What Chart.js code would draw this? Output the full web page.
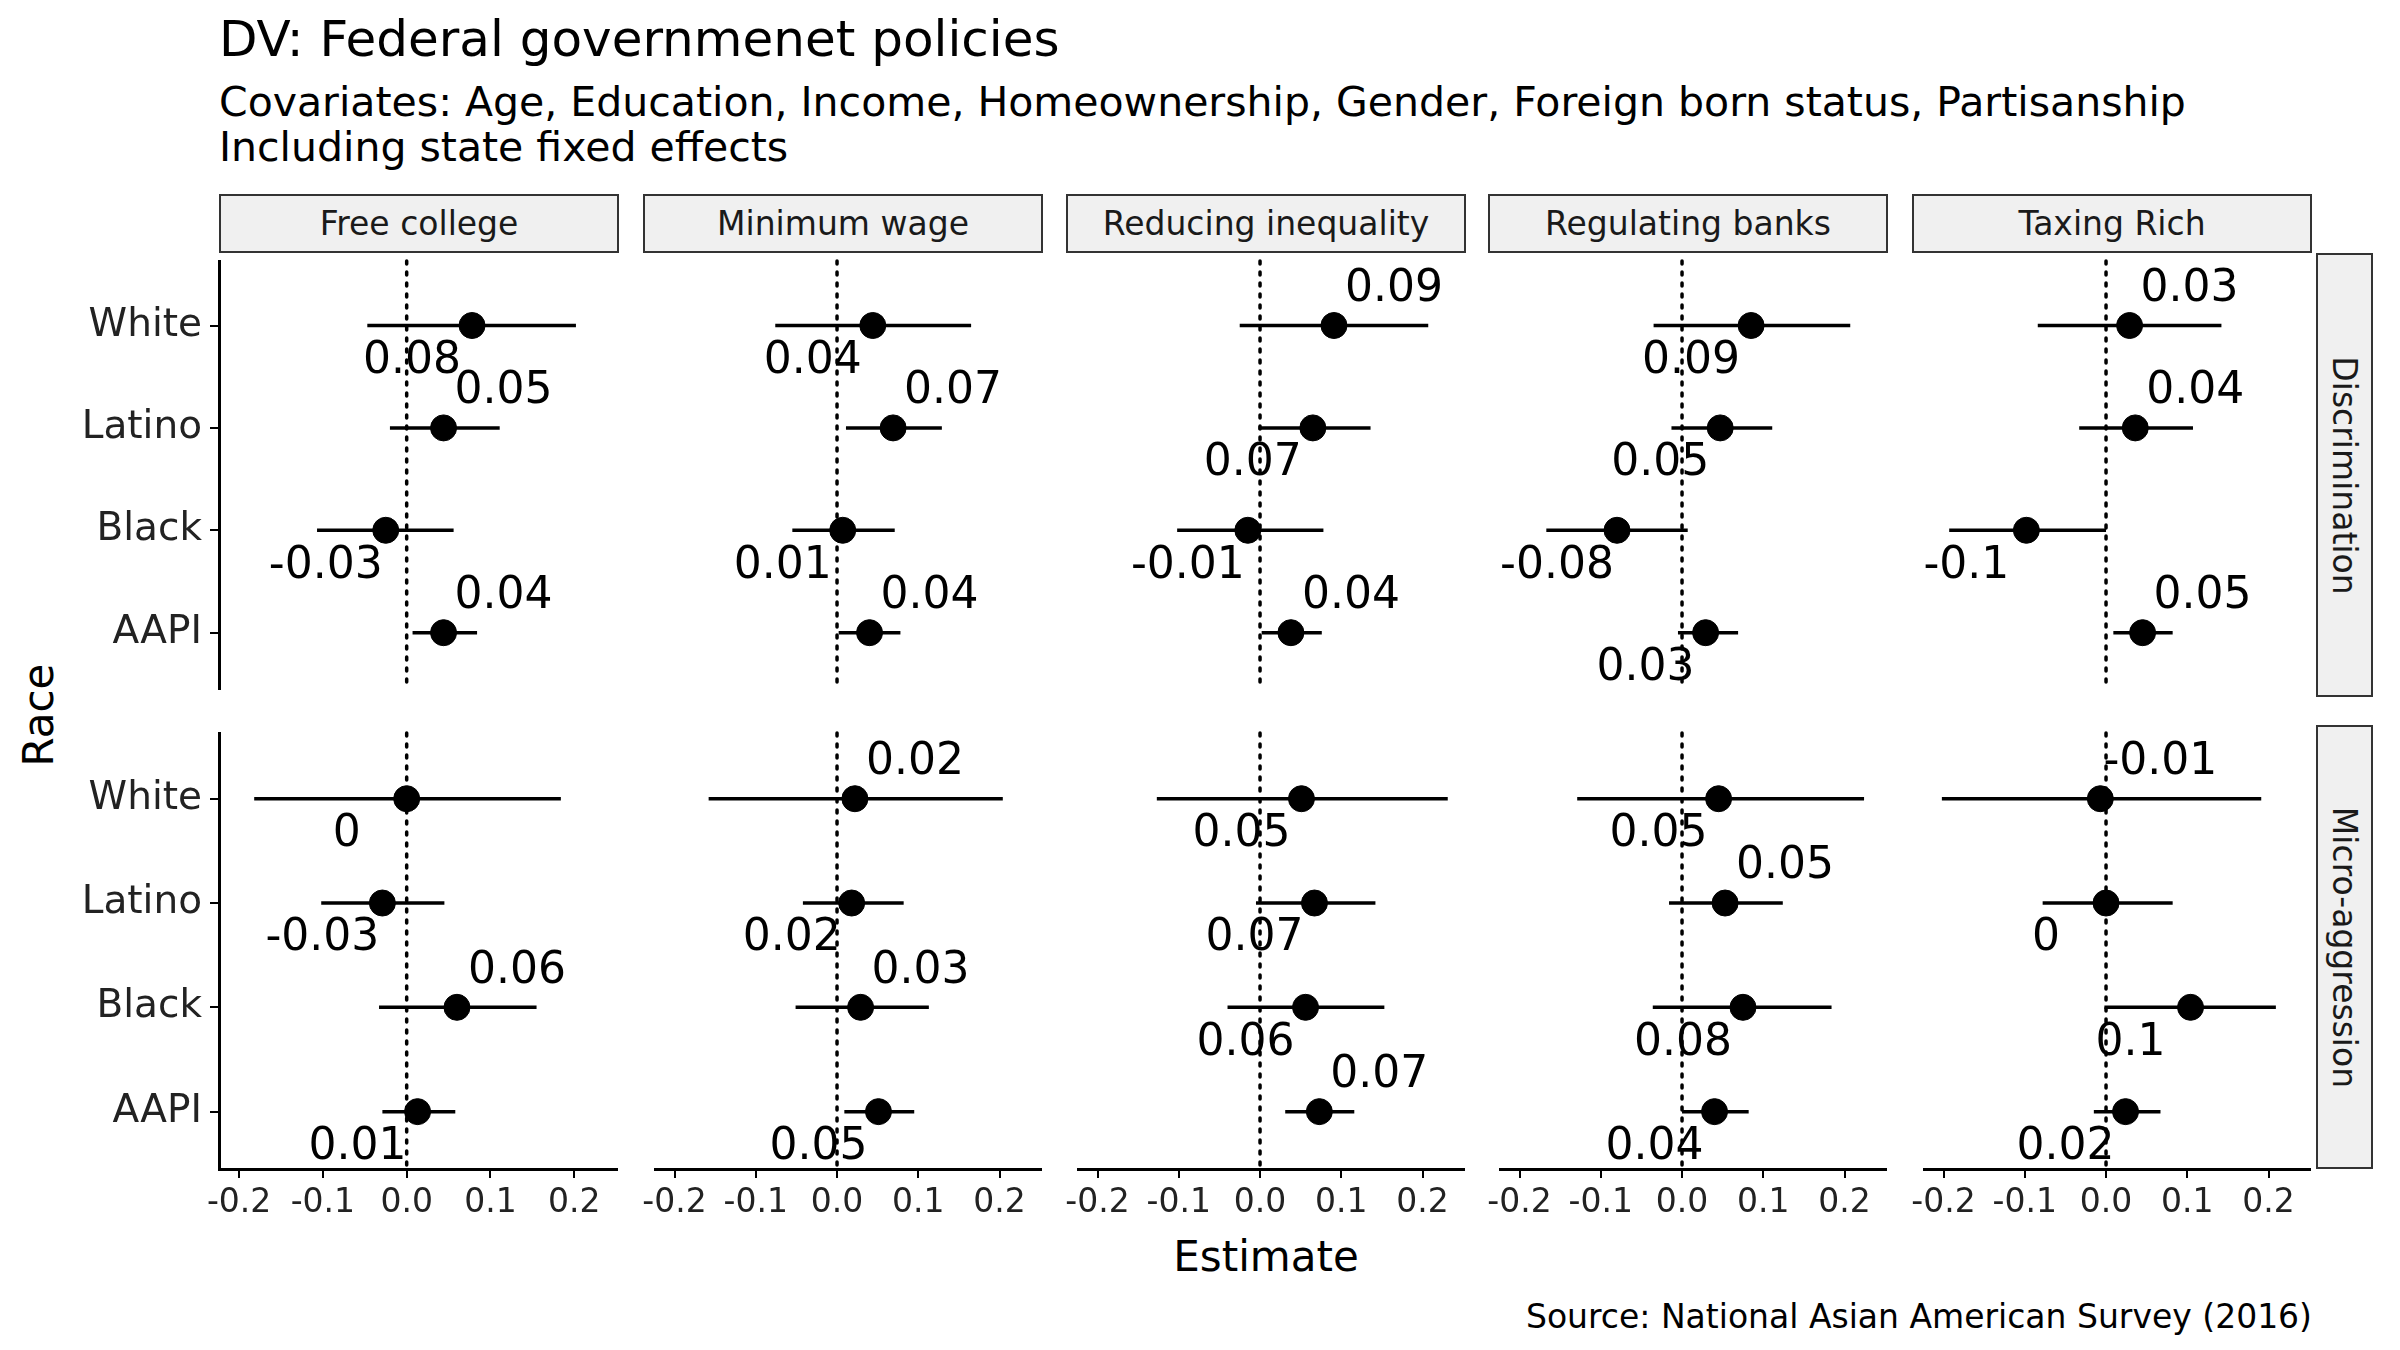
<!DOCTYPE html>
<html><head><meta charset="utf-8">
<script src="https://cdn.jsdelivr.net/npm/chart.js@4"></script>
<style>
body{margin:0;background:#fff;font-family:"DejaVu Sans",sans-serif;}
#wrap{position:relative;width:2400px;height:1350px;overflow:hidden;}
.t{position:absolute;white-space:nowrap;color:#000;}
.strip{position:absolute;background:#f0f0f0;border:2px solid #333;box-sizing:border-box;display:flex;align-items:center;justify-content:center;font-size:33px;color:#1a1a1a;}
canvas{position:absolute;}
</style></head>
<body><div id="wrap">
<div class="t" style="left:219px;top:10px;font-size:50px;">DV: Federal governmenet policies</div>
<div class="t" style="left:219px;top:80px;font-size:41px;line-height:45px;">Covariates: Age, Education, Income, Homeownership, Gender, Foreign born status, Partisanship<br>Including state fixed effects</div>
<div class="t" style="left:1266px;top:1232px;font-size:42px;transform:translateX(-50%);">Estimate</div>
<div class="t" style="left:2312px;top:1297px;font-size:33px;transform:translateX(-100%);">Source: National Asian American Survey (2016)</div>
<div class="t" style="left:38px;top:715px;font-size:42px;transform:translate(-50%,-50%) rotate(-90deg);">Race</div>
</div>
<script>
const policies = ['Free college', 'Minimum wage', 'Reducing inequality', 'Regulating banks', 'Taxing Rich'];
const outcomes = ['Discrimination', 'Micro-aggression'];
const races = ['White', 'Latino', 'Black', 'AAPI'];
const xTicks = [-0.2, -0.1, 0, 0.1, 0.2];

// [row][policy] -> per race
const estimates = [
  [[0.078, 0.044, -0.025, 0.044], [0.044, 0.069, 0.007, 0.040], [0.091, 0.065, -0.015, 0.038], [0.085, 0.047, -0.080, 0.029], [0.029, 0.036, -0.098, 0.045]],
  [[0.000, -0.029, 0.060, 0.013], [0.022, 0.018, 0.029, 0.051], [0.051, 0.067, 0.056, 0.073], [0.045, 0.053, 0.075, 0.040], [-0.007, 0.000, 0.104, 0.024]]
];
const lows = [
  [[-0.047, -0.020, -0.107, 0.007], [-0.076, 0.011, -0.055, 0.002], [-0.025, -0.002, -0.102, 0.002], [-0.035, -0.013, -0.167, -0.005], [-0.084, -0.033, -0.193, 0.009]],
  [[-0.182, -0.102, -0.033, -0.029], [-0.158, -0.042, -0.051, 0.009], [-0.127, -0.005, -0.040, 0.031], [-0.129, -0.016, -0.036, 0.000], [-0.202, -0.078, -0.002, -0.015]]
];
const highs = [
  [[0.202, 0.111, 0.056, 0.084], [0.165, 0.129, 0.071, 0.078], [0.207, 0.136, 0.078, 0.076], [0.207, 0.111, 0.007, 0.069], [0.142, 0.107, 0.000, 0.082]],
  [[0.184, 0.045, 0.155, 0.058], [0.204, 0.082, 0.113, 0.095], [0.231, 0.142, 0.153, 0.116], [0.224, 0.124, 0.184, 0.082], [0.191, 0.082, 0.209, 0.067]]
];
const labels = [
  [['0.08', '0.05', '-0.03', '0.04'], ['0.04', '0.07', '0.01', '0.04'], ['0.09', '0.07', '-0.01', '0.04'], ['0.09', '0.05', '-0.08', '0.03'], ['0.03', '0.04', '-0.1', '0.05']],
  [['0', '-0.03', '0.06', '0.01'], ['0.02', '0.02', '0.03', '0.05'], ['0.05', '0.07', '0.06', '0.07'], ['0.05', '0.05', '0.08', '0.04'], ['-0.01', '0', '0.1', '0.02']]
];
// 1 = label above-right, -1 = label below-left
const labelSide = [
  [[-1, 1, -1, 1], [-1, 1, -1, 1], [1, -1, -1, 1], [-1, -1, -1, -1], [1, 1, -1, 1]],
  [[-1, -1, 1, -1], [1, -1, 1, -1], [-1, -1, -1, 1], [-1, 1, -1, -1], [1, -1, -1, -1]]
];

const colX = [219, 643, 1066, 1488, 1912];
const panelW = 400;
const rowY = [253, 725];
const panelH = 444;
const wrap = document.getElementById('wrap');

const fmt = v => (Math.abs(v) < 1e-9 ? '0.0' : v.toFixed(1));
const noPad = s => { s.paddingTop = 0; s.paddingBottom = 0; s.paddingLeft = 0; s.paddingRight = 0; };

const extras = {
  id: 'extras',
  beforeDatasetsDraw(chart) {
    const {ctx, chartArea, scales: {x}} = chart;
    const px = x.getPixelForValue(0);
    ctx.save();
    ctx.strokeStyle = '#000';
    ctx.lineWidth = 3.5;
    ctx.setLineDash([3, 8]);
    ctx.lineCap = 'round';
    ctx.beginPath();
    ctx.moveTo(px, chartArea.top);
    ctx.lineTo(px, chartArea.bottom);
    ctx.stroke();
    ctx.restore();
    const o = chart.options.plugins.extras;
    ctx.save();
    ctx.strokeStyle = '#000';
    ctx.lineWidth = 3.5;
    o.lo.forEach((lo, i) => {
      const yy = chart.scales.y.getPixelForValue(i + 1);
      ctx.beginPath();
      ctx.moveTo(x.getPixelForValue(lo), yy);
      ctx.lineTo(x.getPixelForValue(o.hi[i]), yy);
      ctx.stroke();
    });
    ctx.restore();
  },
  afterDatasetsDraw(chart) {
    const {ctx, scales: {x, y}} = chart;
    const o = chart.options.plugins.extras;
    ctx.save();
    ctx.fillStyle = '#000';
    ctx.font = '44px "DejaVu Sans"';
    ctx.textAlign = 'center';
    ctx.textBaseline = 'middle';
    o.est.forEach((v, i) => {
      const s = o.side[i];
      ctx.fillText(o.txt[i], x.getPixelForValue(v) + s * 60, y.getPixelForValue(i + 1) - s * 36);
    });
    ctx.restore();
  }
};

outcomes.forEach((out, r) => {
  policies.forEach((pol, c) => {
    const L = c === 0 ? 200 : 12;
    const B = r === 1 ? 72 : 6;
    const cv = document.createElement('canvas');
    const w = panelW + L + 12, h = panelH + 6 + B;
    cv.style.left = (colX[c] - L) + 'px';
    cv.style.top = (rowY[r] - 6) + 'px';
    cv.style.width = w + 'px';
    cv.style.height = h + 'px';
    wrap.appendChild(cv);
    new Chart(cv, {
      type: 'scatter',
      data: {datasets: [{
        data: estimates[r][c].map((v, i) => ({x: v, y: i + 1})),
        backgroundColor: '#000', borderColor: '#000', pointRadius: 13, pointHoverRadius: 13
      }]},
      options: {
        responsive: false, animation: false, devicePixelRatio: 1,
        layout: {padding: {left: c === 0 ? 0 : 12, right: 12, top: 6, bottom: r === 1 ? 0 : 6}},
        plugins: {
          legend: {display: false}, tooltip: {enabled: false},
          extras: {est: estimates[r][c], lo: lows[r][c], hi: highs[r][c], txt: labels[r][c], side: labelSide[r][c]}
        },
        scales: {
          x: {
            type: 'linear', min: -0.224, max: 0.251, display: r === 1,
            afterBuildTicks: s => { s.ticks = xTicks.map(v => ({value: v})); },
            afterFit: s => { s.height = B; noPad(s); },
            ticks: {callback: v => fmt(v), color: '#222', font: {size: 33, family: 'DejaVu Sans'}, padding: 6, maxRotation: 0, autoSkip: false},
            grid: {drawOnChartArea: false, color: '#000', tickLength: 9, lineWidth: 2},
            border: {color: '#000', width: 3}
          },
          y: {
            type: 'linear', min: 0.37, max: 4.55, reverse: true, display: c === 0,
            afterBuildTicks: s => { s.ticks = races.map((_, i) => ({value: i + 1})); },
            afterFit: s => { s.width = L; noPad(s); },
            ticks: {callback: v => races[v - 1], color: '#222', font: {size: 39, family: 'DejaVu Sans'}, padding: 8},
            grid: {drawOnChartArea: false, color: '#000', tickLength: 9, lineWidth: 2},
            border: {color: '#000', width: 3}
          }
        }
      },
      plugins: [extras]
    });
    if (r === 0) {
      const st = document.createElement('div');
      st.className = 'strip';
      st.textContent = pol;
      Object.assign(st.style, {left: colX[c] + 'px', top: '194px', width: panelW + 'px', height: '59px'});
      wrap.appendChild(st);
    }
  });
  const rs = document.createElement('div');
  rs.className = 'strip';
  Object.assign(rs.style, {left: '2316px', top: rowY[r] + 'px', width: '57px', height: panelH + 'px'});
  const sp = document.createElement('span');
  sp.textContent = out;
  sp.style.transform = 'rotate(90deg)';
  sp.style.whiteSpace = 'nowrap';
  rs.appendChild(sp);
  wrap.appendChild(rs);
});
</script>
</body></html>
